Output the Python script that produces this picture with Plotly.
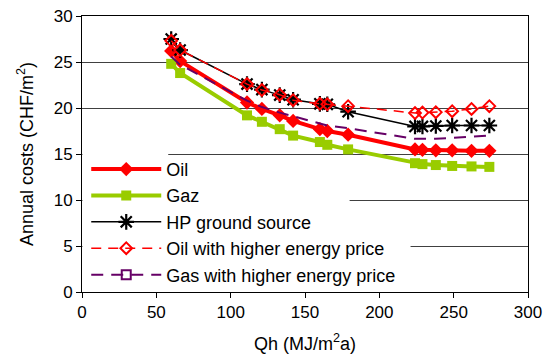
import plotly.graph_objects as go

# Qh (MJ/m2a)
qh = [60, 66, 111, 121, 133, 142, 160, 165, 179, 224, 229, 238, 249, 262, 274]

oil = [26.2, 25.1, 20.6, 19.9, 19.2, 18.6, 17.7, 17.5, 17.1, 15.5, 15.45, 15.4, 15.4, 15.35, 15.35]
gaz = [24.8, 23.8, 19.2, 18.5, 17.7, 17.0, 16.3, 16.0, 15.5, 14.0, 13.9, 13.8, 13.7, 13.65, 13.6]
hp_ground = [27.5, 26.3, 22.6, 22.0, 21.4, 20.9, 20.45, 20.4, 19.6, 18.0, 18.0, 18.05, 18.1, 18.1, 18.1]
oil_high = [27.3, 26.3, 22.6, 21.95, 21.45, 20.85, 20.45, 20.4, 20.2, 19.45, 19.5, 19.55, 19.65, 19.9, 20.2]
gas_high = [25.6, 24.7, 20.8, 20.1, 19.5, 19.1, 18.3, 18.1, 17.8, 16.65, 16.65, 16.65, 16.75, 16.85, 17.0]

x_ticks = [0, 50, 100, 150, 200, 250, 300]
y_ticks = [0, 5, 10, 15, 20, 25, 30]

FONT = "Liberation Sans, Arial, sans-serif"

fig = go.Figure()

fig.add_trace(go.Scatter(
    x=qh, y=oil, name="Oil", mode="lines+markers",
    line=dict(color="#FF0000", width=4),
    marker=dict(symbol="diamond", size=11, color="#FF0000"),
    legendgroup="a"))
fig.add_trace(go.Scatter(
    x=qh, y=gaz, name="Gaz", mode="lines+markers",
    line=dict(color="#99CC00", width=4),
    marker=dict(symbol="square", size=10, color="#99CC00"),
    legendgroup="b"))
fig.add_trace(go.Scatter(
    x=qh, y=hp_ground, name="HP ground source", mode="lines+markers",
    line=dict(color="#000000", width=1.5),
    marker=dict(symbol="asterisk-open", size=13, color="#000000",
                line=dict(color="#000000", width=2.2)),
    legendgroup="c"))
fig.add_trace(go.Scatter(
    x=qh, y=oil_high, name="Oil with higher energy price", mode="lines+markers",
    line=dict(color="#FF0000", width=1.5, dash="10px,7px"),
    marker=dict(symbol="diamond-open", size=9, color="#FF0000",
                line=dict(color="#FF0000", width=2)),
    legendgroup="d"))
fig.add_trace(go.Scatter(
    x=qh, y=gas_high, name="Gas with higher energy price", mode="lines",
    line=dict(color="#660066", width=2, dash="12px,8px"),
    showlegend=False, legendgroup="e"))
fig.add_trace(go.Scatter(
    x=[None], y=[None], name="Gas with higher energy price", mode="lines+markers",
    line=dict(color="#660066", width=2, dash="12px,8px"),
    marker=dict(symbol="square-open", size=9, color="#660066",
                line=dict(color="#660066", width=2)),
    legendgroup="e"))

# white masks behind legend text (gridlines hidden there in the original)
for x1, yv in [(58, 15), (180, 10), (221, 5)]:
    fig.add_shape(type="rect", xref="x", yref="y", x0=0.3, x1=x1,
                  y0=yv - 0.6, y1=yv + 0.6, fillcolor="white",
                  line=dict(width=0), layer="between")

fig.update_layout(
    width=548, height=357,
    margin=dict(l=82, r=20, t=16, b=65),
    paper_bgcolor="white", plot_bgcolor="white",
    font=dict(family=FONT, size=17, color="#000000"),
    showlegend=True,
    legend=dict(x=0.0095, y=-0.003, xanchor="left", yanchor="bottom",
                bgcolor="rgba(0,0,0,0)", borderwidth=0,
                font=dict(size=18), itemwidth=70, tracegroupgap=0,
                traceorder="normal"),
)
fig.update_xaxes(
    range=[0, 300], tickvals=x_ticks, ticktext=[str(v) for v in x_ticks],
    showgrid=False, zeroline=False, automargin=False,
    showline=True, linecolor="#000000", linewidth=1, mirror=True,
    ticks="outside", ticklen=5, tickcolor="#000000",
    title=dict(text="Qh (MJ/m<sup>2</sup>a)", font=dict(size=18)),
)
fig.update_yaxes(
    range=[0, 30], tickvals=y_ticks, ticktext=[str(v) for v in y_ticks],
    showgrid=True, gridcolor="#404040", gridwidth=1, zeroline=False, automargin=False,
    showline=True, linecolor="#000000", linewidth=1, mirror=True,
    ticks="outside", ticklen=5, tickcolor="#000000", ticklabeloverflow="allow",
    title=dict(text="Annual costs (CHF/m<sup>2</sup>)", font=dict(size=18)),
)

fig.write_html("out.html", config={"displayModeBar": False},
               post_script="document.body.style.margin='0';")
